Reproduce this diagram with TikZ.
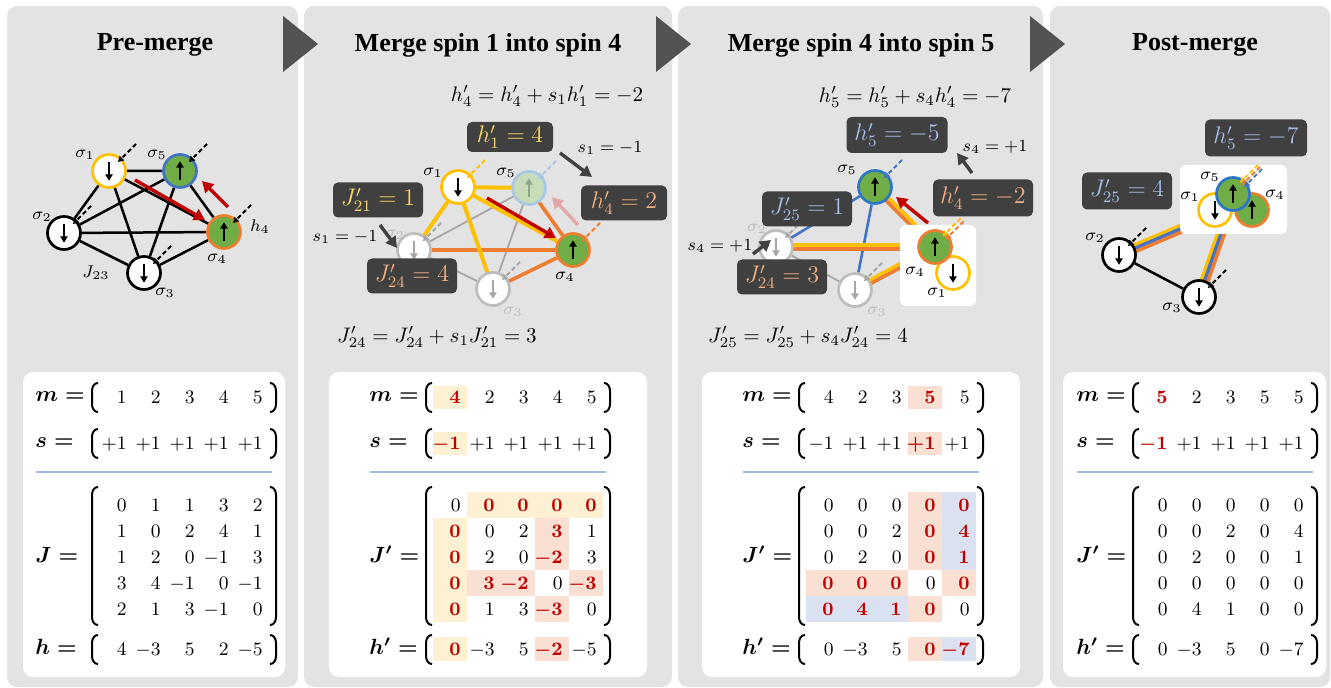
\RequirePackage{fix-cm}
\documentclass[tikz,border=0pt]{standalone}
\usepackage{amsmath}
\usepackage{fontspec}
\newfontfamily\headfont{Liberation Serif}
\usetikzlibrary{arrows.meta,calc}

\definecolor{panelgray}{HTML}{E3E3E3}
\definecolor{trigray}{HTML}{525252}
\definecolor{boxgray}{HTML}{404040}
\definecolor{syel}{HTML}{FFC000}
\definecolor{sorg}{HTML}{ED7D31}
\definecolor{sblu}{HTML}{2E75C6}
\definecolor{sblu1}{HTML}{4472C4}
\definecolor{sgrn}{HTML}{70AD47}
\definecolor{hred}{HTML}{C00000}
\definecolor{hlY}{HTML}{FDF0D3}
\definecolor{hlO}{HTML}{F9E0D3}
\definecolor{hlB}{HTML}{DAE2F2}
\definecolor{sepblue}{HTML}{A3BCE4}
\definecolor{tY}{HTML}{FFD966}
\definecolor{tO}{HTML}{F4B183}
\definecolor{tB}{HTML}{A7BFE8}
\definecolor{fadegray}{HTML}{BDBDBD}
\definecolor{fadearrow}{HTML}{A6A6A6}
\definecolor{fadeblue}{HTML}{A9C8E6}
\definecolor{fadegreen}{HTML}{C7DCB9}
\definecolor{fadegarrow}{HTML}{8FA68C}
\definecolor{pinkarrow}{HTML}{E4A7A7}

\pgfdeclarelayer{back}
\pgfdeclarelayer{edges}
\pgfdeclarelayer{cover}
\pgfsetlayers{back,edges,cover,main}

% bold red matrix entry
\newcommand{\redb}[1]{{\color{hred}\boldsymbol{#1}}}
% one row of five right-aligned entries: name prefix, y, values
\newcommand{\cellrow}[3]{%
  \foreach \val [count=\i] in {#3} {\node[num] (#1\i) at ({34*\i-6},#2) {$\val$};}}
% a pair of round brackets spanning the rows between two heights
\newcommand{\parpair}[2]{%
  \draw[paren] (-1,#1) .. controls (-5,#1) and (-7,#1+4) .. (-7,#1+8) -- (-7,#2-8) .. controls (-7,#2-4) and (-5,#2) .. (-1,#2);
  \draw[paren] (171,#1) .. controls (175,#1) and (177,#1+4) .. (177,#1+8) -- (177,#2-8) .. controls (177,#2-4) and (175,#2) .. (171,#2);}

\begin{document}
\begin{tikzpicture}[x=0.5pt,y=-0.5pt,
  panel/.style={fill=panelgray, rounded corners=5pt},
  mbox/.style={fill=white, rounded corners=5pt},
  tri/.style={fill=trigray},
  ptitle/.style={font=\headfont\bfseries\fontsize{13}{15}\selectfont, inner sep=0pt},
  spin/.style={circle, minimum size=16.5pt, inner sep=0pt, line width=1.35pt},
  inarrow/.style={line width=0.9pt, -{Triangle[length=3.2pt,width=3.6pt]}},
  spinup/.style={path picture={\draw[inarrow,#1] ([yshift=-4.6pt]path picture bounding box.center) -- ([yshift=4.9pt]path picture bounding box.center);}},
  spinup/.default=black,
  spindown/.style={path picture={\draw[inarrow,#1] ([yshift=4.6pt]path picture bounding box.center) -- ([yshift=-4.9pt]path picture bounding box.center);}},
  spindown/.default=black,
  slab/.style={font=\fontsize{8.5}{10}\selectfont, inner sep=0pt},
  ann/.style={font=\fontsize{8.5}{10}\selectfont, inner sep=0pt},
  eq/.style={font=\fontsize{10.5}{12}\selectfont, inner sep=0pt},
  dbox/.style={fill=boxgray, rounded corners=2.5pt, minimum width=45pt, minimum height=17.5pt, inner sep=0pt, font=\fontsize{12}{14}\selectfont},
  bk/.style={line width=1.25pt, black},
  ye/.style={line width=2pt, syel},
  oe/.style={line width=1.8pt, sorg},
  ge/.style={line width=0.9pt, fadearrow},
  be/.style={line width=1.3pt, sblu1},
  stripe/.style={line width=1.75pt, #1},
  field/.style={line width=0.9pt, dash pattern=on 2.2pt off 1.4pt, -{Triangle[length=2.8pt,width=3.2pt]}, #1},
  field/.default=black,
  redarr/.style={line width=1.7pt, hred, -{Triangle[length=5.5pt,width=6pt]}},
  pinkarr/.style={line width=1.7pt, pinkarrow, -{Triangle[length=5.5pt,width=6pt]}},
  darr/.style={line width=1.7pt, boxgray, -{Triangle[length=5.5pt,width=6pt]}},
  num/.style={anchor=east, inner sep=0pt, text height=6.4pt, text depth=0pt, font=\fontsize{9.5}{11}\selectfont},
  mlab/.style={anchor=west, inner sep=0pt, text height=5pt, text depth=0pt, font=\fontsize{11}{13}\selectfont},
  paren/.style={line width=1pt, black},
  sepline/.style={line width=0.8pt, sepblue}]

\useasboundingbox (0,0) rectangle (1331,688);

% ---------- panels, matrix cards and step triangles ----------
\begin{pgfonlayer}{back}
  \fill[panel] (7,6) rectangle (298,687);
  \fill[panel] (304,6) rectangle (672,687);
  \fill[panel] (678,6) rectangle (1043,687);
  \fill[panel] (1050,6) rectangle (1330,687);
  \fill[mbox] (23,372) rectangle (285,677);
  \fill[mbox] (329,372) rectangle (647,677);
  \fill[mbox] (702,372) rectangle (1020,677);
  \fill[mbox] (1063,372) rectangle (1326,677);
  \fill[tri] (283,16) -- (318,44) -- (283,72) -- cycle;
  \fill[tri] (656,16) -- (691,44) -- (656,72) -- cycle;
  \fill[tri] (1030,16) -- (1065,44) -- (1030,72) -- cycle;
\end{pgfonlayer}

\node[ptitle] (t1) at (155,45) {Pre-merge};
\node[ptitle] (t2) at (488,45) {Merge spin 1 into spin 4};
\node[ptitle] (t3) at (861,45) {Merge spin 4 into spin 5};
\node[ptitle] (t4) at (1195,45) {Post-merge};

% ---------- pre-merge graph ----------
\node[spin, draw=syel, fill=white, spindown] (a1) at (109,171) {};
\node[spin, draw=sblu1, fill=sgrn, spinup] (a5) at (180,171) {};
\node[spin, draw=black, fill=white, spindown] (a2) at (64,233) {};
\node[spin, draw=sorg, fill=sgrn, spinup] (a4) at (224,232) {};
\node[spin, draw=black, fill=white, spindown] (a3) at (144,273) {};
\begin{pgfonlayer}{edges}
  \draw[bk] (a1)--(a5) (a1)--(a2) (a1)--(a3) (a1)--(a4) (a5)--(a2)
            (a5)--(a3) (a5)--(a4) (a2)--(a4) (a2)--(a3) (a3)--(a4);
\end{pgfonlayer}
\foreach \n in {a1,a2,a3,a4,a5} \draw[field] ($(\n)+(27,-27)$) -- ($(\n)+(9,-9)$);
\node[slab] (la1) at (85,155) {$\sigma_1$};
\node[slab] (la5) at (157,155) {$\sigma_5$};
\node[slab] (la2) at (42,217) {$\sigma_2$};
\node[slab] (la4) at (217,259) {$\sigma_4$};
\node[slab] (la3) at (165,293) {$\sigma_3$};
\node[slab] (lj23) at (96,273) {$J_{23}$};
\node[slab] (lh4) at (260,227) {$h_4$};
\coordinate (ra1) at (135,180); \coordinate (ra2) at (205,220);
\coordinate (ra3) at (228,207); \coordinate (ra4) at (202,181);
\draw[redarr] (ra1) -- (ra2);
\draw[redarr] (ra3) -- (ra4);

% ---------- merge 1 -> 4 graph ----------
\node[spin, draw=syel, fill=white, spindown] (b1) at (458,187) {};
\node[spin, draw=fadeblue, fill=fadegreen, spinup=fadegarrow] (b5) at (529,188) {};
\node[spin, draw=fadegray, fill=white, spindown=fadearrow] (b2) at (414,250) {};
\node[spin, draw=sorg, fill=sgrn, spinup] (b4) at (573,250) {};
\node[spin, draw=fadegray, fill=white, spindown=fadearrow] (b3) at (493,289) {};
\begin{pgfonlayer}{edges}
  \draw[ge] (b2)--(b5) (b3)--(b5) (b2)--(b3);
  \draw[oe] (b4)--(b2) (b4)--(b3) (b4)--(b5);
  \draw[ye] (b1)--(b5) (b1)--(b2) (b1)--(b3) (b1)--(b4);
\end{pgfonlayer}
\draw[field=syel] ($(b1)+(27,-27)$) -- ($(b1)+(9,-9)$);
\draw[field=fadeblue] ($(b5)+(27,-27)$) -- ($(b5)+(9,-9)$);
\draw[field=fadearrow] ($(b2)+(27,-27)$) -- ($(b2)+(9,-9)$);
\draw[field=fadearrow] ($(b3)+(27,-27)$) -- ($(b3)+(9,-9)$);
\draw[field=sorg] ($(b4)+(27,-27)$) -- ($(b4)+(9,-9)$);
\node[slab] (lb1) at (433,173) {$\sigma_1$};
\node[slab] (lb5) at (506,173) {$\sigma_5$};
\node[slab] (lb4) at (565,277) {$\sigma_4$};
\node[slab, text=fadegray] (lb3) at (513,312) {$\sigma_3$};
\node[slab, text=fadegray] (lb2) at (395,235) {$\sigma_2$};
\coordinate (rb1) at (487,198); \coordinate (rb2) at (556,238);
\coordinate (pb1) at (578,225); \coordinate (pb2) at (552,197);
\draw[redarr] (rb1) -- (rb2);
\draw[pinkarr] (pb1) -- (pb2);
\node[dbox, text=tY, minimum width=43pt, minimum height=15pt] (bh1) at (510,137) {$h'_1 = 4$};
\node[dbox, text=tY] (bj21) at (378,200) {$J'_{21} = 1$};
\node[dbox, text=tO, minimum width=43pt] (bh4) at (624,203) {$h'_4 = 2$};
\node[dbox, text=tO] (bj24) at (412,276) {$J'_{24} = 4$};
\node[eq] (beq1) at (547,96) {$h'_4 = h'_4 + s_1h'_1 = -2$};
\node[ann] (bs1a) at (610,148) {$s_1 = -1$};
\node[ann] (bs1b) at (345,237) {$s_1 = -1$};
\node[eq] (beq2) at (437,337) {$J'_{24} = J'_{24} + s_1J'_{21} = 3$};
\coordinate (db1) at (560,153); \coordinate (db2) at (592,177);
\coordinate (db3) at (380,225); \coordinate (db4) at (397,248);
\draw[darr] (db1) -- (db2);
\draw[darr] (db3) -- (db4);

% ---------- merge 4 -> 5 graph ----------
\node[spin, draw=sblu, fill=sgrn, spinup] (c5) at (875,187) {};
\node[spin, draw=fadegray, fill=white, spindown=fadearrow] (c2) at (776,247) {};
\node[spin, draw=fadegray, fill=white, spindown=fadearrow] (c3) at (855,290) {};
\begin{pgfonlayer}{cover}
  \fill[white, rounded corners=3pt] (900,225) rectangle (976,306);
\end{pgfonlayer}
\node[spin, draw=syel, fill=white, spindown] (c1) at (953,273) {};
\node[spin, draw=sorg, fill=sgrn, spinup] (c4) at (935,247) {};
\begin{pgfonlayer}{edges}
  \draw[ge] (c2)--(c3);
  \draw[be] (c5)--(c2) (c5)--(c3);
  \draw[stripe=syel] ($(c2.center)+(0,-1.8)$) -- ($(c4.center)+(0,-1.8)$);
  \draw[stripe=sorg] ($(c2.center)+(0,1.8)$) -- ($(c4.center)+(0,1.8)$);
  \draw[stripe=syel] ($(c3.center)+(-0.85,-1.6)$) -- ($(c4.center)+(-0.85,-1.6)$);
  \draw[stripe=sorg] ($(c3.center)+(0.85,1.6)$) -- ($(c4.center)+(0.85,1.6)$);
  \draw[stripe=syel] ($(c5.center)+(1.3,-1.3)$) -- ($(c4.center)+(1.3,-1.3)$);
  \draw[stripe=sorg] ($(c5.center)+(-1.3,1.3)$) -- ($(c4.center)+(-1.3,1.3)$);
\end{pgfonlayer}
\draw[field=sblu1] ($(c5)+(27,-27)$) -- ($(c5)+(9,-9)$);
\draw[field=fadearrow] ($(c2)+(27,-27)$) -- ($(c2)+(9,-9)$);
\draw[field=fadearrow] ($(c3)+(27,-27)$) -- ($(c3)+(9,-9)$);
\draw[field=syel] ($(c4)+(25.5,-28.5)$) -- ($(c4)+(7.5,-10.5)$);
\draw[field=sorg] ($(c4)+(28.5,-25.5)$) -- ($(c4)+(10.5,-7.5)$);
\node[slab] (lc5) at (847,170) {$\sigma_5$};
\node[slab, text=fadegray] (lc2) at (757,229) {$\sigma_2$};
\node[slab, text=fadegray] (lc3) at (877,312) {$\sigma_3$};
\node[slab] (lc4) at (915,272) {$\sigma_4$};
\node[slab] (lc1) at (937,293) {$\sigma_1$};
\coordinate (rc1) at (928,223); \coordinate (rc2) at (896,197);
\draw[redarr] (rc1) -- (rc2);
\node[dbox, text=tB, minimum width=50.5pt, minimum height=18pt] (ch5) at (897,135) {$h'_5 = -5$};
\node[dbox, text=tO, minimum width=50pt, minimum height=18.5pt] (ch4) at (983,198) {$h'_4 = -2$};
\node[dbox, text=tB] (cj25) at (807,209) {$J'_{25} = 1$};
\node[dbox, text=tO] (cj24) at (782,277) {$J'_{24} = 3$};
\node[eq] (ceq1) at (915,97) {$h'_5 = h'_5 + s_4h'_4 = -7$};
\node[ann] (cs4a) at (995,147) {$s_4 = +1$};
\node[ann] (cs4b) at (720,246) {$s_4 = +1$};
\node[eq] (ceq2) at (808,337) {$J'_{25} = J'_{25} + s_4J'_{24} = 4$};
\coordinate (dc1) at (972,173); \coordinate (dc2) at (957,153);
\coordinate (dc3) at (753,254); \coordinate (dc4) at (771,240);
\draw[darr] (dc1) -- (dc2);
\draw[darr] (dc3) -- (dc4);

% ---------- post-merge graph ----------
\begin{pgfonlayer}{cover}
  \fill[white, rounded corners=3pt] (1180,165) rectangle (1287,234);
\end{pgfonlayer}
\node[spin, draw=syel, fill=white, spindown] (d1) at (1215,210) {};
\node[spin, draw=sorg, fill=sgrn, spinup] (d4) at (1252,210) {};
\node[spin, draw=sblu, fill=sgrn, spinup] (d5) at (1233,194) {};
\node[spin, draw=black, fill=white, spindown] (d2) at (1119,255) {};
\node[spin, draw=black, fill=white, spindown] (d3) at (1199,297) {};
\coordinate (dm) at (1230,208);
\begin{pgfonlayer}{edges}
  \draw[bk] (d2)--(d3);
  \draw[stripe=syel] ($(d2.center)+(-1.3,-3)$) -- ($(dm)+(-1.3,-3)$);
  \draw[stripe=sblu1] (d2.center) -- (dm);
  \draw[stripe=sorg] ($(d2.center)+(1.3,3)$) -- ($(dm)+(1.3,3)$);
  \draw[stripe=syel] ($(d3.center)+(-3.1,-1.1)$) -- ($(dm)+(-3.1,-1.1)$);
  \draw[stripe=sblu1] (d3.center) -- (dm);
  \draw[stripe=sorg] ($(d3.center)+(3.1,1.1)$) -- ($(dm)+(3.1,1.1)$);
\end{pgfonlayer}
\draw[field] ($(d2)+(27,-27)$) -- ($(d2)+(9,-9)$);
\draw[field] ($(d3)+(27,-27)$) -- ($(d3)+(9,-9)$);
\draw[field=syel] ($(d5)+(24.9,-29.1)$) -- ($(d5)+(6.9,-11.1)$);
\draw[field=sorg] ($(d5)+(27,-27)$) -- ($(d5)+(9,-9)$);
\draw[field=sblu1] ($(d5)+(29.1,-24.9)$) -- ($(d5)+(11.1,-6.9)$);
\node[slab] (ld5) at (1210,177) {$\sigma_5$};
\node[slab] (ld1) at (1190,197) {$\sigma_1$};
\node[slab] (ld4) at (1275,195) {$\sigma_4$};
\node[slab] (ld2) at (1095,238) {$\sigma_2$};
\node[slab] (ld3) at (1172,308) {$\sigma_3$};
\node[dbox, text=tB, minimum width=51pt, minimum height=18.5pt] (dh5) at (1256,138) {$h'_5 = -7$};
\node[dbox, text=tB, minimum height=18.5pt] (dj25) at (1127,191) {$J'_{25} = 4$};

% ---------- matrices: pre-merge ----------
\begin{scope}[shift={(99,0)}]
  \node[mlab] (p1m) at (-64,397) {$\boldsymbol{m=}$};
  \cellrow{p1m}{397}{1,2,3,4,5}
  \parpair{383}{412}
  \node[mlab] (p1s) at (-64,443) {$\boldsymbol{s=}$};
  \cellrow{p1s}{443}{+1,+1,+1,+1,+1}
  \parpair{429}{458}
  \draw[sepline] (-63,472) -- (173,472);
  \node[mlab] (p1J) at (-64,557) {$\boldsymbol{J=}$};
  \cellrow{p1ja}{505}{0,1,1,3,2}
  \cellrow{p1jb}{531}{1,0,2,4,1}
  \cellrow{p1jc}{557}{1,2,0,-1,3}
  \cellrow{p1jd}{583}{3,4,-1,0,-1}
  \cellrow{p1je}{609}{2,1,3,-1,0}
  \parpair{487}{625}
  \node[mlab] (p1h) at (-64,649) {$\boldsymbol{h=}$};
  \cellrow{p1h}{649}{4,-3,5,2,-5}
  \parpair{635}{664}
\end{scope}

% ---------- matrices: merge 1 -> 4 ----------
\begin{scope}[shift={(433,0)}]
  \fill[hlY] (0,386) rectangle (34,409);
  \fill[hlY] (0,432) rectangle (34,455);
  \fill[hlY] (34,492) rectangle (170,518);
  \fill[hlY] (0,518) rectangle (34,622);
  \fill[hlO] (102,518) rectangle (136,570);
  \fill[hlO] (34,570) rectangle (102,596);
  \fill[hlO] (136,570) rectangle (170,596);
  \fill[hlO] (102,596) rectangle (136,622);
  \fill[hlY] (0,637) rectangle (34,661);
  \fill[hlO] (102,637) rectangle (136,661);
  \node[mlab] (p2m) at (-64,397) {$\boldsymbol{m=}$};
  \cellrow{p2m}{397}{\redb{4},2,3,4,5}
  \parpair{383}{412}
  \node[mlab] (p2s) at (-64,443) {$\boldsymbol{s=}$};
  \cellrow{p2s}{443}{\redb{-1},+1,+1,+1,+1}
  \parpair{429}{458}
  \draw[sepline] (-63,472) -- (173,472);
  \node[mlab] (p2J) at (-64,557) {$\boldsymbol{J'=}$};
  \cellrow{p2ja}{505}{0,\redb{0},\redb{0},\redb{0},\redb{0}}
  \cellrow{p2jb}{531}{\redb{0},0,2,\redb{3},1}
  \cellrow{p2jc}{557}{\redb{0},2,0,\redb{-2},3}
  \cellrow{p2jd}{583}{\redb{0},\redb{3},\redb{-2},0,\redb{-3}}
  \cellrow{p2je}{609}{\redb{0},1,3,\redb{-3},0}
  \parpair{487}{625}
  \node[mlab] (p2h) at (-64,649) {$\boldsymbol{h'=}$};
  \cellrow{p2h}{649}{\redb{0},-3,5,\redb{-2},-5}
  \parpair{635}{664}
\end{scope}

% ---------- matrices: merge 4 -> 5 ----------
\begin{scope}[shift={(806,0)}]
  \fill[hlO] (102,386) rectangle (136,409);
  \fill[hlO] (102,432) rectangle (136,455);
  \fill[hlO] (102,492) rectangle (136,570);
  \fill[hlB] (136,492) rectangle (170,570);
  \fill[hlO] (0,570) rectangle (102,596);
  \fill[hlO] (136,570) rectangle (170,596);
  \fill[hlB] (0,596) rectangle (102,622);
  \fill[hlO] (102,596) rectangle (136,622);
  \fill[hlO] (102,637) rectangle (136,661);
  \fill[hlB] (136,637) rectangle (170,661);
  \node[mlab] (p3m) at (-64,397) {$\boldsymbol{m=}$};
  \cellrow{p3m}{397}{4,2,3,\redb{5},5}
  \parpair{383}{412}
  \node[mlab] (p3s) at (-64,443) {$\boldsymbol{s=}$};
  \cellrow{p3s}{443}{-1,+1,+1,\redb{+1},+1}
  \parpair{429}{458}
  \draw[sepline] (-63,472) -- (173,472);
  \node[mlab] (p3J) at (-64,557) {$\boldsymbol{J'=}$};
  \cellrow{p3ja}{505}{0,0,0,\redb{0},\redb{0}}
  \cellrow{p3jb}{531}{0,0,2,\redb{0},\redb{4}}
  \cellrow{p3jc}{557}{0,2,0,\redb{0},\redb{1}}
  \cellrow{p3jd}{583}{\redb{0},\redb{0},\redb{0},0,\redb{0}}
  \cellrow{p3je}{609}{\redb{0},\redb{4},\redb{1},\redb{0},0}
  \parpair{487}{625}
  \node[mlab] (p3h) at (-64,649) {$\boldsymbol{h'=}$};
  \cellrow{p3h}{649}{0,-3,5,\redb{0},\redb{-7}}
  \parpair{635}{664}
\end{scope}

% ---------- matrices: post-merge ----------
\begin{scope}[shift={(1140,0)}]
  \node[mlab] (p4m) at (-64,397) {$\boldsymbol{m=}$};
  \cellrow{p4m}{397}{\redb{5},2,3,5,5}
  \parpair{383}{412}
  \node[mlab] (p4s) at (-64,443) {$\boldsymbol{s=}$};
  \cellrow{p4s}{443}{\redb{-1},+1,+1,+1,+1}
  \parpair{429}{458}
  \draw[sepline] (-63,472) -- (173,472);
  \node[mlab] (p4J) at (-64,557) {$\boldsymbol{J'=}$};
  \cellrow{p4ja}{505}{0,0,0,0,0}
  \cellrow{p4jb}{531}{0,0,2,0,4}
  \cellrow{p4jc}{557}{0,2,0,0,1}
  \cellrow{p4jd}{583}{0,0,0,0,0}
  \cellrow{p4je}{609}{0,4,1,0,0}
  \parpair{487}{625}
  \node[mlab] (p4h) at (-64,649) {$\boldsymbol{h'=}$};
  \cellrow{p4h}{649}{0,-3,5,0,-7}
  \parpair{635}{664}
\end{scope}
\end{tikzpicture}
\end{document}
